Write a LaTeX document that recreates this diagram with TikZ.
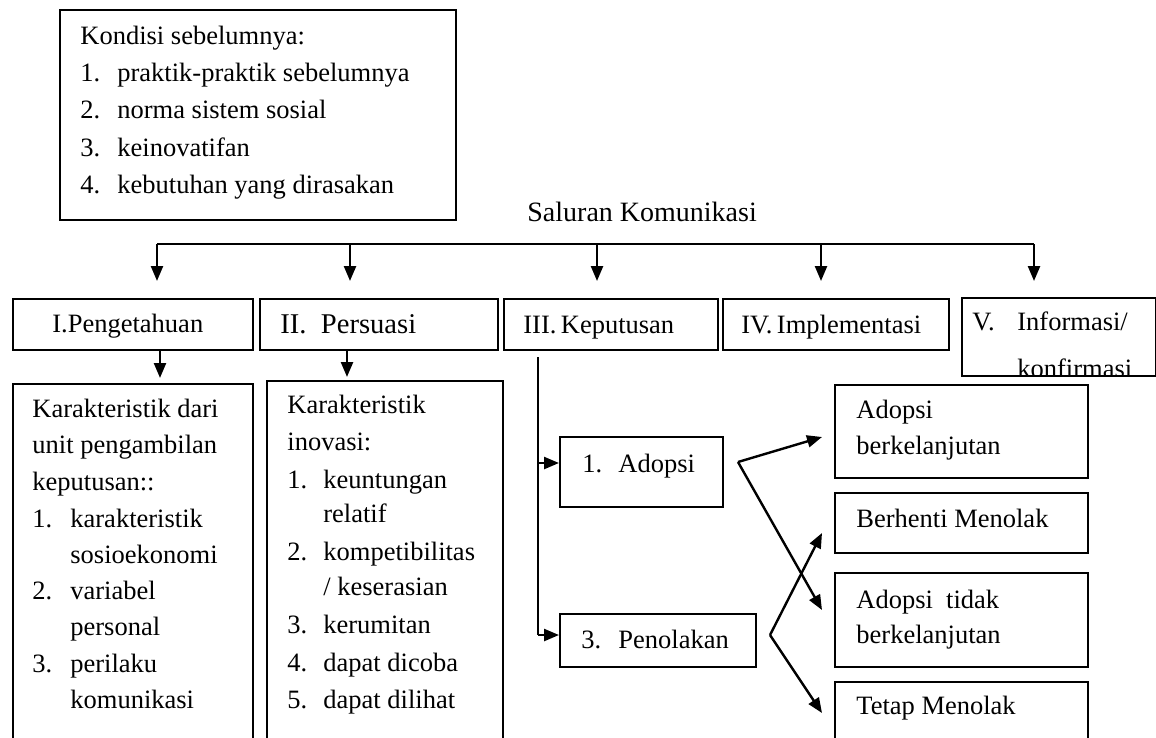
\documentclass[tikz,border=0pt]{standalone}
\usepackage{fontspec}
\setmainfont{Liberation Serif}
\usetikzlibrary{arrows.meta,calc}
\newcommand{\bodyf}{\fontsize{13.25}{16}\selectfont}
\newcommand{\bigf}{\fontsize{14.3}{17}\selectfont}
\newcommand{\salf}{\fontsize{14}{17}\selectfont}
\begin{document}
\begin{tikzpicture}[x=0.5pt,y=-0.5pt,
  box/.style={draw,line width=1pt,inner sep=0pt,anchor=north west},
  txt/.style={anchor=base west,inner sep=0pt,font=\bodyf},
  arr/.style={line width=1.2pt,-{Triangle[length=7.5pt,width=6pt]}},
  ln/.style={line width=1.2pt}]
\useasboundingbox (0,0) rectangle (1156,738);
\clip (0,0) rectangle (1156,738);
% top box
\node[box,minimum width=198pt,minimum height=105pt] (top) at (59,9) {};
\node[txt] (k0) at (80,45) {Kondisi sebelumnya:};
\node[txt] (k1n) at (80,82) {1.}; \node[txt] (k1) at (117,82) {praktik-praktik sebelumnya};
\node[txt] (k2n) at (80,119) {2.}; \node[txt] (k2) at (117,119) {norma sistem sosial};
\node[txt] (k3n) at (80,156) {3.}; \node[txt] (k3) at (117,156) {keinovatifan};
\node[txt] (k4n) at (80,193) {4.}; \node[txt] (k4) at (117,193) {kebutuhan yang dirasakan};
% saluran
\node[anchor=base west,inner sep=0pt,font=\salf] (sal) at (527,221) {Saluran Komunikasi};
\coordinate (h1) at (157,244); \coordinate (h2) at (350,244); \coordinate (h3) at (597,244);
\coordinate (h4) at (821,244); \coordinate (h5) at (1034,244);
\coordinate (t1) at (157,281); \coordinate (t2) at (350,281); \coordinate (t3) at (597,281);
\coordinate (t4) at (821,281); \coordinate (t5) at (1034,281);
\draw[ln] (h1) -- (h5);
\foreach \i in {1,...,5} \draw[arr] (h\i) -- (t\i);
% stage boxes
\node[box,minimum width=120pt,minimum height=25.5pt] (s1) at (12,298) {};
\node[box,minimum width=119pt,minimum height=25.5pt] (s2) at (259,298) {};
\node[box,minimum width=107pt,minimum height=25.5pt] (s3) at (503,298) {};
\node[box,minimum width=113pt,minimum height=25.5pt] (s4) at (722,298) {};
\node[box,minimum width=97pt,minimum height=39pt] (s5) at (961,297) {};
\node[txt] (s1t) at (52,332) {I.Pengetahuan};
\node[txt,font=\bigf] (s2t) at (280,333) {II.\ \ Persuasi};
\node[txt] (s3t) at (523,333) {III.\,Keputusan};
\node[txt] (s4t) at (741,333) {IV.\,Implementasi};
\node[txt] (s5n) at (972,330) {V.};
\node[txt] (s5t) at (1017,330) {Informasi/};
\begin{scope}
\clip (961,297) rectangle (1155,374);
\node[txt] (s5u) at (1017,377) {konfirmasi};
\end{scope}
% small arrows
\coordinate (a1) at (160,349); \coordinate (b1) at (160,378);
\coordinate (a2) at (347,349); \coordinate (b2) at (347,377);
\draw[arr] (a1) -- (b1);
\draw[arr] (a2) -- (b2);
% lower boxes
\node[box,minimum width=120pt,minimum height=181pt] (A) at (12,383) {};
\node[box,minimum width=118pt,minimum height=182.5pt] (B) at (266,380) {};
\node[txt] (Aa0) at (32,417) {Karakteristik dari};
\node[txt] (Aa1) at (32,453) {unit pengambilan};
\node[txt] (Aa2) at (32,490) {keputusan::};
\node[txt] (An1) at (32,527) {1.}; \node[txt] (At1) at (70,527) {karakteristik};
\node[txt] (At1b) at (70,563) {sosioekonomi};
\node[txt] (An2) at (32,599) {2.}; \node[txt] (At2) at (70,599) {variabel};
\node[txt] (At2b) at (70,635) {personal};
\node[txt] (An3) at (32,672) {3.}; \node[txt] (At3) at (70,672) {perilaku};
\node[txt] (At3b) at (70,708) {komunikasi};
\node[txt] (Ba0) at (287,413) {Karakteristik};
\node[txt] (Ba1) at (287,450) {inovasi:};
\node[txt] (Bn1) at (287,488) {1.}; \node[txt] (Bt1) at (323,488) {keuntungan};
\node[txt] (Bt1b) at (323,522) {relatif};
\node[txt] (Bn2) at (287,560) {2.}; \node[txt] (Bt2) at (323,560) {kompetibilitas};
\node[txt] (Bt2b) at (323,595) {/ keserasian};
\node[txt] (Bn3) at (287,633) {3.}; \node[txt] (Bt3) at (323,633) {kerumitan};
\node[txt] (Bn4) at (287,671) {4.}; \node[txt] (Bt4) at (323,671) {dapat dicoba};
\node[txt] (Bn5) at (287,708) {5.}; \node[txt] (Bt5) at (323,708) {dapat dilihat};
% keputusan branch
\node[box,minimum width=81.5pt,minimum height=35pt] (ad) at (559,436) {};
\node[box,minimum width=98pt,minimum height=26.5pt] (pe) at (559,613) {};
\node[txt] (adn) at (582,472) {1.}; \node[txt] (adt) at (618,472) {Adopsi};
\node[txt] (pen) at (581,648) {3.}; \node[txt] (pet) at (618,648) {Penolakan};
\coordinate (v0) at (538,357);
\coordinate (v1) at (538,463);
\coordinate (v2) at (538,635);
\draw[ln] (v0) -- (v2);
\draw[arr] (v1) -- (v1 -| ad.west);
\draw[arr] (v2) -- (v2 -| pe.west);
% result boxes
\node[box,minimum width=126.5pt,minimum height=46.5pt] (r1) at (834,384) {};
\node[box,minimum width=126.5pt,minimum height=30pt] (r2) at (834,492) {};
\node[box,minimum width=126.5pt,minimum height=47pt] (r3) at (834,572) {};
\node[box,minimum width=126.5pt,minimum height=34pt] (r4) at (834,681) {};
\node[txt] (r1a) at (856,418) {Adopsi};
\node[txt] (r1b) at (856,454) {berkelanjutan};
\node[txt] (r2a) at (856,527) {Berhenti Menolak};
\node[txt] (r3a) at (856,608) {Adopsi\ \ tidak};
\node[txt] (r3b) at (856,643) {berkelanjutan};
\node[txt] (r4a) at (856,714) {Tetap Menolak};
\coordinate (ja) at (738,462);
\coordinate (jp) at (770,635);
\coordinate (e1) at (822,437); \coordinate (e3) at (822,610);
\coordinate (e2) at (822,533); \coordinate (e4) at (822,713);
\draw[arr] (ja) -- (e1);
\draw[arr] (ja) -- (e3);
\draw[arr] (jp) -- (e2);
\draw[arr] (jp) -- (e4);
\end{tikzpicture}
\end{document}
